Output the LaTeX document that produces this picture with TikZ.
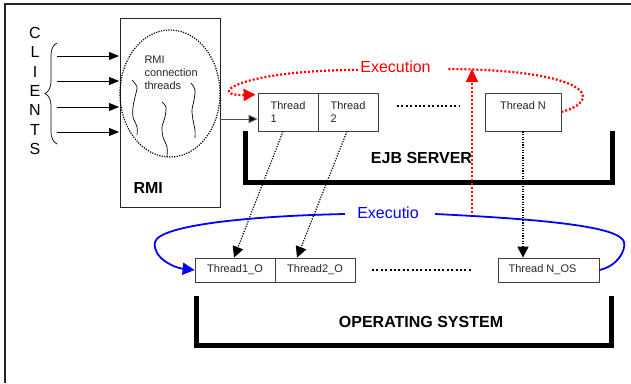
\documentclass[tikz,border=0pt]{standalone}
\usepackage{fontspec}
\setmainfont{Liberation Sans}
\usetikzlibrary{arrows.meta,decorations.pathreplacing}
\begin{document}
\begin{tikzpicture}[x=1pt,y=-1pt,
  thread/.style={draw=black!75,line width=0.8pt,inner sep=0pt,
    font=\fontsize{11}{13}\selectfont,align=left,text=black!85},
  ejbtask/.style={thread,minimum width=60pt,minimum height=38pt},
  ostask/.style={thread,minimum width=80pt,minimum height=24pt},
  bracketline/.style={line width=5pt,line join=miter},
  title/.style={font=\fontsize{16}{19}\selectfont\bfseries},
  mapline/.style={line width=1.2pt,dash pattern=on 1.2pt off 1.4pt,
    -{Triangle[width=11pt,length=11pt]}},
  execred/.style={red,line width=2.2pt,dash pattern=on 2pt off 2pt},
  execblue/.style={blue,line width=1.8pt},
  clientarrow/.style={line width=0.8pt,-{Triangle[width=8pt,length=10pt]}},
  squiggle/.style={line width=0.7pt},
]
\useasboundingbox (0,0) rectangle (631,383);

% outer frame
\draw[black!85,line width=1.5pt] (5,383) -- (5,4) -- (631,4);

% clients
\node[font=\fontsize{16}{19.3}\selectfont,align=center] (clients) at (35,91)
  {C\\L\\I\\E\\N\\T\\S};
\draw[line width=0.7pt,decorate,decoration={brace,amplitude=12pt,aspect=0.5}]
  (57,144) -- (57,43);
\foreach \y/\n in {56/a,81/b,107/c,132/d}{
  \coordinate (cl\n) at (57,\y);
  \draw[clientarrow] (cl\n) -- (119,\y);
}

% RMI server box with its connection threads
\node[draw=black!85,line width=0.8pt,minimum width=100pt,minimum height=189pt,
  inner sep=0pt] (rmi) at (170,112.5) {};
\draw[line width=1.2pt,dash pattern=on 1.2pt off 1.3pt]
  (170,93.5) ellipse [x radius=50pt,y radius=63.5pt];
\node[font=\fontsize{11}{13}\selectfont,align=left,anchor=west,text=black!85]
  (rmitext) at (141,73) {RMI\\connection\\threads};
\node[title,anchor=west] (rmilabel) at (130,188) {RMI};
\draw[squiggle] plot[smooth] coordinates
  {(132,80) (137,87) (135,97) (133,107) (133,117) (137,127) (137,135)};
\draw[squiggle] plot[smooth] coordinates
  {(162,102) (166,107) (165,117) (162,127) (163,137) (167,147) (167,157)};
\draw[squiggle] plot[smooth] coordinates
  {(191,83) (195,90) (194,100) (192,110) (193,120) (195,130) (195,138)};

% EJB server threads
\node[ejbtask] (th1) at (288,112) {Thread\\1};
\node[ejbtask] (th2) at (348,112) {Thread\\2};
\node[thread,minimum width=76pt,minimum height=38pt] (thN) at (523,112)
  {Thread N\\\mbox{}};
\draw[line width=2pt,dash pattern=on 2pt off 2.4pt] (397,106) -- (460,106);

\coordinate (rmiout) at ([yshift=-7pt]th1.west);
\draw[black!70,line width=1pt,-{Triangle[width=8pt,length=9pt,fill=black]}]
  (rmi.east |- rmiout) -- (rmiout);

% EJB server bracket
\draw[bracketline] (245,131) -- (245,182) -- (612,182) -- (612,131);
\node[title] (ejb) at (421.5,158) {EJB SERVER};

% operating system threads
\node[ostask] (o1) at (235,270) {Thread1\_O};
\node[ostask] (o2) at (315,270) {Thread2\_O};
\node[thread,minimum width=101pt,minimum height=24pt] (oN) at (548.5,270)
  {Thread N\_OS\hspace*{12pt}};
\draw[line width=2pt,dash pattern=on 2pt off 2.4pt] (372,270) -- (472,270);

% operating system bracket
\draw[bracketline] (196,296) -- (196,345) -- (611,345) -- (611,296);
\node[title] (os) at (421,322) {OPERATING SYSTEM};

% mapping of server threads onto system threads
\draw[mapline] ([xshift=-5pt]th1.south) -- ([xshift=-1pt]o1.north);
\draw[mapline] ([xshift=-1pt]th2.south) -- ([xshift=-18pt]o2.north);
\draw[mapline] (thN.south) -- (thN.south |- oN.north);

% execution order in the server (red)
\node[red,font=\fontsize{16}{19}\selectfont,inner sep=0pt] (exred) at (395.5,67)
  {Execution};
\coordinate (exredR) at (448,69);
\coordinate (exredL) at (358,70);
\draw[execred] (thN.east) .. controls (605,100) and (590,70) .. (exredR);
\draw[execred,-{Triangle[width=12pt,length=12pt]}]
  (exredL) .. controls (240,70) and (205,96) .. ([xshift=-2pt,yshift=-2pt]th1.north west);
\coordinate (upfrom) at (472,217);
\coordinate (upto) at (472,69);
\draw[execred,-{Triangle[width=12pt,length=13pt]}] (upfrom) -- (upto);

% execution order in the operating system (blue)
\node[blue,font=\fontsize{16}{19}\selectfont,inner sep=0pt] (exblue) at (388,213)
  {Executio};
\coordinate (exblueR) at (435,214);
\coordinate (exblueL) at (345,214);
\draw[execblue] (oN.east) .. controls (618,266) and (626,250) .. (624,242)
  .. controls (620,228) and (560,220) .. (exblueR);
\draw[execblue,-{Triangle[width=12pt,length=12pt]}]
  (exblueL) .. controls (250,216) and (160,225) .. (155,242)
  .. controls (152,258) and (175,268) .. (o1.west);
\end{tikzpicture}
\end{document}
